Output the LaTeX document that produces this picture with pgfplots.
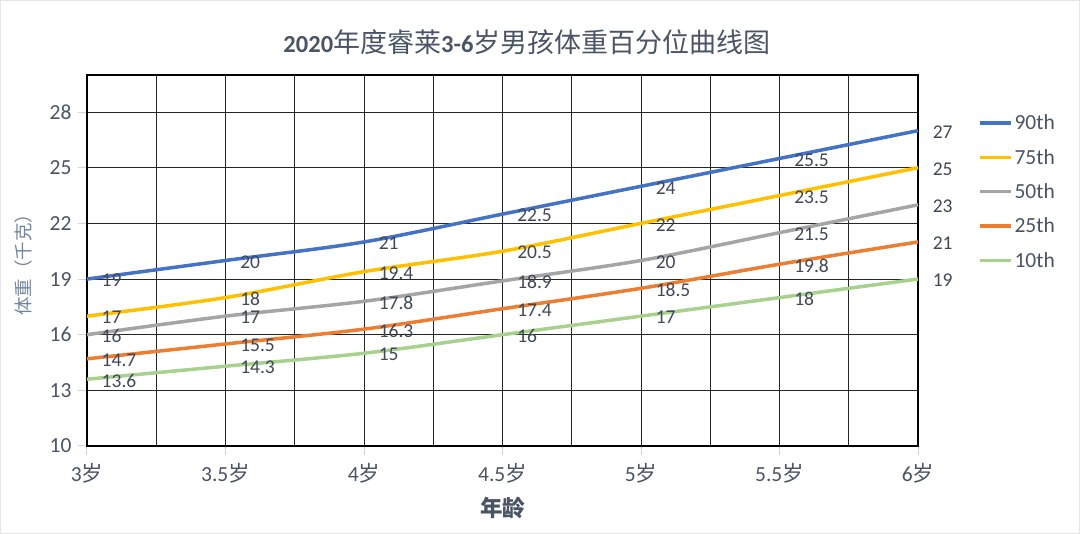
\documentclass[border=0pt]{standalone}
\usepackage{pgfplots}
\pgfplotsset{compat=1.18}
\usepackage{fontspec}
\setmainfont{Carlito}
\newfontfamily\cjk{Noto Sans CJK SC}
\definecolor{c90}{HTML}{4472C4}
\definecolor{c75}{HTML}{FFC000}
\definecolor{c50}{HTML}{A5A5A5}
\definecolor{c25}{HTML}{ED7D31}
\definecolor{c10}{HTML}{A9D18E}
\definecolor{slate}{HTML}{4A5466}
\definecolor{lbl}{HTML}{404856}
\definecolor{ylab}{HTML}{7385A0}
\begin{document}
\begin{tikzpicture}[x=1pt,y=1pt]
\path[use as bounding box] (0,0) rectangle (1080,534);
\draw[gray!20, line width=1pt] (0.5,0.5) rectangle (1079.5,533.5);
\begin{axis}[
  at={(87pt,88pt)}, anchor=south west,
  width=831pt, height=371pt, scale only axis,
  xmin=3, xmax=6, ymin=10, ymax=30,
  xtick={3,3.5,4,4.5,5,5.5,6},
  xticklabels={3{\cjk 岁},3.5{\cjk 岁},4{\cjk 岁},4.5{\cjk 岁},5{\cjk 岁},5.5{\cjk 岁},6{\cjk 岁}},
  minor xtick={3.25,3.75,4.25,4.75,5.25,5.75},
  ytick={10,13,16,19,22,25,28},
  xmajorgrids, xminorgrids, ymajorgrids,
  major grid style={black!85, line width=0.9pt},
  minor grid style={black!85, line width=0.9pt},
  axis line style={black, line width=1.8pt},
  tick align=outside, xtick pos=bottom, ytick pos=left,
  major tick length=9pt, minor tick length=0pt,
  tick style={gray!35, line width=1pt},
  /pgf/number format/assume math mode=true,
  ticklabel style={font=\fontsize{21.5}{25}\selectfont, text=slate},
  yticklabel style={xshift=-3pt},
  xticklabel style={yshift=-5pt},
  xlabel={\cjk\bfseries 年龄},
  xlabel style={at={(axis description cs:0.5,-0.167)}, anchor=center, font=\fontsize{22.5}{26}\selectfont, text=slate},
  ylabel={\cjk 体重（千克）},
  ylabel style={at={(axis description cs:-0.077,0.5)}, anchor=center, font=\fontsize{18.5}{22}\selectfont, text=ylab},
  clip=false,
  point meta=explicit symbolic,
  nodes near coords,
  every node near coord/.append style={anchor=west, inner sep=0pt, xshift=13pt, yshift=-1.5pt, font=\fontsize{19.5}{23}\selectfont, text=lbl},
  legend style={at={(1.072,0.899)}, anchor=north west, draw=none, fill=none, inner sep=0pt,
    font=\fontsize{21.5}{25}\selectfont, text=slate, row sep=14pt},
  legend image code/.code={\draw[#1,line width=3.5pt] (0pt,0pt) -- (31pt,0pt);},
  legend cell align=left,
]
\addplot[c90, line width=3.5pt, smooth] coordinates {(3,19)[19] (3.5,20)[20] (4,21)[21] (4.5,22.5)[22.5] (5,24)[24] (5.5,25.5)[25.5] (6,27)[27]};
\addlegendentry{90th}
\addplot[c75, line width=3.5pt, smooth] coordinates {(3,17)[17] (3.5,18)[18] (4,19.4)[19.4] (4.5,20.5)[20.5] (5,22)[22] (5.5,23.5)[23.5] (6,25)[25]};
\addlegendentry{75th}
\addplot[c50, line width=3.5pt, smooth] coordinates {(3,16)[16] (3.5,17)[17] (4,17.8)[17.8] (4.5,18.9)[18.9] (5,20)[20] (5.5,21.5)[21.5] (6,23)[23]};
\addlegendentry{50th}
\addplot[c25, line width=3.5pt, smooth] coordinates {(3,14.7)[14.7] (3.5,15.5)[15.5] (4,16.3)[16.3] (4.5,17.4)[17.4] (5,18.5)[18.5] (5.5,19.8)[19.8] (6,21)[21]};
\addlegendentry{25th}
\addplot[c10, line width=3.5pt, smooth] coordinates {(3,13.6)[13.6] (3.5,14.3)[14.3] (4,15)[15] (4.5,16)[16] (5,17)[17] (5.5,18)[18] (6,19)[19]};
\addlegendentry{10th}
\end{axis}
\node[text=slate, inner sep=0pt] at (527,492) {{\fontsize{24.5}{28}\selectfont\bfseries 2020}{\fontsize{27}{30}\selectfont\cjk 年度睿莱}{\fontsize{24.5}{28}\selectfont\bfseries 3-6}{\fontsize{27}{30}\selectfont\cjk 岁男孩体重百分位曲线图}};
\end{tikzpicture}
\end{document}
